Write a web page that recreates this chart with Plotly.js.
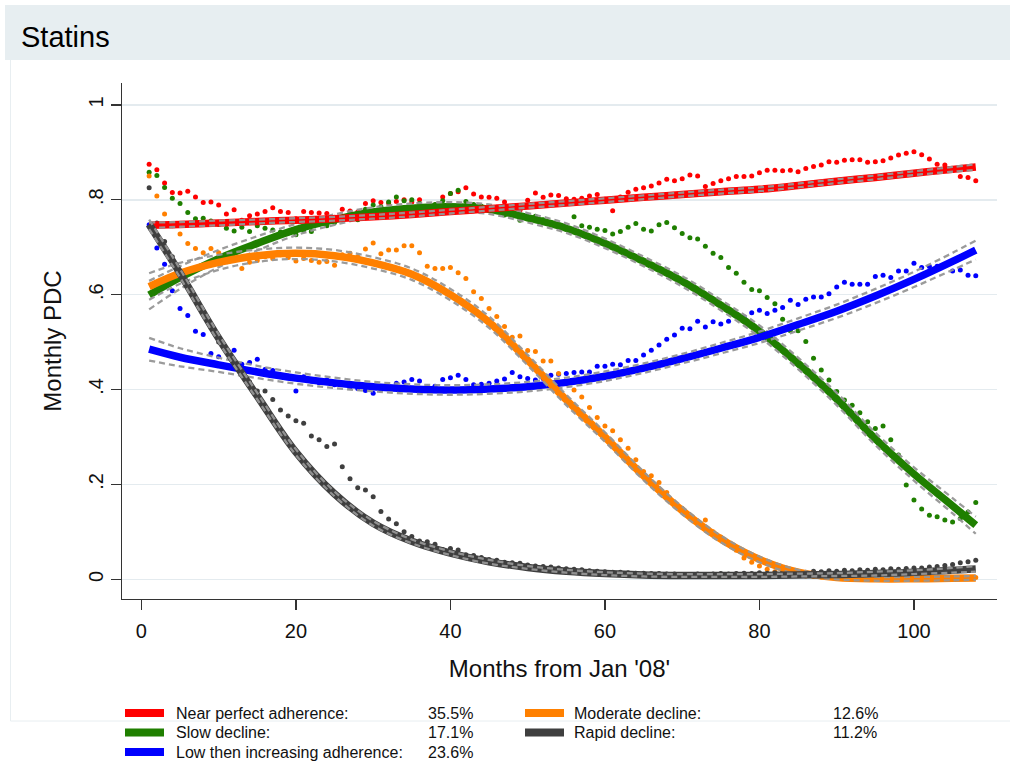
<!DOCTYPE html>
<html>
<head>
<meta charset="utf-8">
<script src="https://cdn.plot.ly/plotly-3.0.1.min.js"></script>
<style>
  html, body { margin: 0; padding: 0; background: #ffffff; }
  #chart { width: 1010px; height: 765px; }
</style>
</head>
<body>
<div id="chart"></div>
<script>
// ---- Monthly PDC trajectories, statin users (months from Jan '08) ----
const months = [
  1,2,3,4,5,6,7,8,9,10,11,12,13,14,15,16,17,18,19,20,21,22,23,24,25,26,27,28,29,30,
  31,32,33,34,35,36,37,38,39,40,41,42,43,44,45,46,47,48,49,50,51,52,53,54,55,56,57,58,59,60,
  61,62,63,64,65,66,67,68,69,70,71,72,73,74,75,76,77,78,79,80,81,82,83,84,85,86,87,88,89,90,
  91,92,93,94,95,96,97,98,99,100,101,102,103,104,105,106,107,108
];

// Observed monthly mean PDC per trajectory group
const nearPerfectObs = [
  .875,.863,.835,.815,.814,.818,.806,.794,.795,.789,.770,.779,.757,.766,.770,.775,.783,.775,.773,.760,
  .775,.773,.772,.771,.763,.780,.776,.774,.792,.798,.794,.793,.796,.800,.795,.800,.780,.789,.806,.813,
  .817,.825,.812,.806,.805,.803,.795,.782,.778,.799,.814,.805,.810,.809,.802,.801,.803,.808,.811,.801,
  .777,.806,.816,.822,.825,.829,.835,.843,.840,.844,.852,.850,.828,.834,.840,.844,.849,.849,.850,.857,
  .862,.862,.861,.862,.859,.866,.870,.873,.880,.879,.883,.884,.884,.879,.880,.882,.888,.894,.898,.901,
  .895,.886,.875,.873,.862,.849,.847,.840
];
const slowDeclineObs = [
  .858,.851,.826,.803,.792,.773,.760,.761,.755,.748,.740,.734,.742,.733,.745,.740,.736,.732,.730,.726,
  .735,.733,.754,.745,.752,.760,.770,.758,.780,.789,.785,.795,.806,.798,.800,.792,.785,.790,.798,.813,
  .820,.796,.790,.786,.778,.775,.768,.770,.757,.762,.765,.758,.752,.748,.738,.764,.745,.742,.738,.735,
  .728,.733,.742,.750,.738,.734,.747,.752,.741,.729,.720,.717,.702,.687,.678,.657,.645,.626,.611,.608,
  .594,.581,.548,.524,.524,.501,.466,.441,.420,.396,.378,.367,.351,.332,.318,.323,.294,.262,.199,.167,
  .148,.135,.132,.125,.121,.128,.142,.162
];
const lowIncreasingObs = [
  .747,.698,.664,.608,.571,.556,.523,.516,.476,.469,.485,.483,.453,.457,.464,.442,.440,.430,.428,.397,
  .427,.418,.414,.420,.410,.412,.405,.402,.398,.392,.400,.404,.413,.416,.421,.418,.406,.407,.421,.425,
  .430,.421,.410,.411,.413,.418,.422,.436,.427,.423,.420,.423,.430,.432,.434,.436,.437,.437,.449,.449,
  .453,.452,.461,.461,.473,.483,.494,.506,.515,.529,.528,.544,.532,.543,.538,.544,.559,.553,.562,.567,
  .560,.567,.573,.588,.579,.590,.595,.595,.602,.616,.626,.622,.622,.622,.638,.641,.636,.650,.650,.666,
  .657,.659,.660,.661,.650,.652,.641,.640
];
const moderateDeclineObs = [
  .850,.808,.770,.745,.728,.708,.697,.688,.697,.688,.680,.675,.655,.668,.672,.680,.676,.684,.678,.671,
  .676,.672,.668,.670,.662,.684,.687,.680,.696,.709,.686,.694,.694,.703,.703,.688,.660,.655,.655,.657,
  .646,.634,.606,.592,.571,.554,.533,.510,.513,.482,.480,.460,.460,.434,.412,.399,.384,.362,.341,.323,
  .313,.294,.276,.252,.227,.218,.204,.183,.158,.149,.130,.118,.125,.100,.089,.075,.061,.045,.036,.028,
  .021,.016,.012,.010,.008,.007,.006,.005,.005,.004,.005,.004,.004,.003,.004,.003,.004,.003,.003,.004,
  .003,.003,.004,.003,.003,.004,.003,.004
];
const rapidDeclineObs = [
  .825,.751,.712,.680,.650,.620,.590,.560,.530,.500,.480,.458,.440,.416,.397,.397,.379,.357,.344,.334,
  .329,.302,.294,.280,.285,.237,.212,.193,.188,.174,.143,.127,.117,.100,.090,.081,.079,.074,.063,.065,
  .062,.052,.050,.046,.042,.040,.036,.035,.034,.030,.028,.027,.026,.024,.022,.021,.020,.018,.017,.016,
  .015,.015,.014,.013,.013,.012,.012,.011,.011,.010,.010,.011,.010,.011,.012,.011,.012,.013,.012,.014,
  .013,.014,.015,.014,.016,.015,.017,.016,.018,.017,.019,.018,.020,.019,.021,.020,.022,.021,.023,.024,
  .024,.026,.027,.029,.031,.035,.037,.040
];

// Fitted trajectories with 95% confidence limits, sampled at these months
const fitMonths = [1,5,10,15,20,25,30,35,40,45,50,55,60,65,70,75,80,85,90,95,100,105,108];

const nearPerfectFit = [.746,.748,.751,.754,.757,.760,.764,.769,.775,.781,.787,.793,.799,.805,.811,.817,.822,.830,.839,.847,.856,.864,.869];
const nearPerfectHi  = [.752,.753,.756,.758,.761,.764,.768,.773,.779,.785,.791,.797,.803,.809,.815,.821,.826,.834,.843,.851,.860,.869,.875];
const nearPerfectLo  = [.740,.743,.746,.750,.753,.756,.760,.765,.771,.777,.783,.789,.795,.801,.807,.813,.818,.826,.835,.843,.852,.859,.863];

const slowDeclineFit = [.599,.636,.676,.708,.737,.758,.774,.782,.785,.780,.762,.740,.708,.670,.628,.578,.523,.455,.380,.296,.222,.155,.114];
const slowDeclineHi  = [.629,.660,.694,.723,.749,.769,.784,.792,.795,.790,.772,.750,.718,.680,.639,.589,.535,.467,.393,.309,.236,.171,.132];
const slowDeclineLo  = [.569,.612,.658,.693,.725,.747,.764,.772,.775,.770,.752,.730,.698,.660,.617,.567,.511,.443,.367,.283,.208,.139,.096];

const lowIncreasingFit = [.485,.468,.452,.437,.424,.414,.406,.401,.399,.401,.406,.415,.428,.445,.465,.487,.510,.537,.565,.597,.632,.670,.694];
const lowIncreasingHi  = [.509,.487,.467,.450,.436,.425,.416,.411,.409,.411,.416,.425,.438,.455,.475,.498,.522,.550,.579,.612,.648,.688,.714];
const lowIncreasingLo  = [.461,.449,.437,.424,.412,.403,.396,.391,.389,.391,.396,.405,.418,.435,.455,.476,.498,.524,.551,.582,.616,.652,.674];

const moderateDeclineFit = [.617,.645,.668,.682,.687,.682,.667,.643,.600,.542,.462,.378,.300,.218,.145,.085,.042,.015,.004,.001,.001,.002,.003];
const moderateDeclineHi  = [.645,.667,.684,.695,.699,.694,.679,.655,.612,.554,.473,.389,.310,.227,.153,.092,.048,.020,.008,.005,.005,.006,.007];
const moderateDeclineLo  = [.589,.623,.652,.669,.675,.670,.655,.631,.588,.530,.451,.367,.290,.209,.137,.078,.036,.010,.000,-.003,-.003,-.002,-.001];

const rapidDeclineFit = [.748,.645,.508,.386,.268,.180,.118,.080,.055,.037,.025,.017,.012,.009,.008,.008,.008,.009,.010,.012,.015,.019,.022];
const rapidDeclineHi  = [.758,.654,.516,.393,.274,.185,.123,.084,.059,.041,.028,.020,.015,.012,.011,.011,.011,.012,.013,.016,.019,.024,.028];
const rapidDeclineLo  = [.738,.636,.500,.379,.262,.175,.113,.076,.051,.033,.022,.014,.009,.006,.005,.005,.005,.006,.007,.008,.011,.014,.016];

// Group labels and share of patients in each group
const groupNames  = ['Near perfect adherence:', 'Slow decline:', 'Low then increasing adherence:', 'Moderate decline:', 'Rapid decline:'];
const groupShares = ['35.5%', '17.1%', '23.6%', '12.6%', '11.2%'];
const groupColors = ['#ff0000', '#1f7f00', '#0000ff', '#ff8000', '#3f3f3f'];

// Axis ticks
const xTickVals = [0, 20, 40, 60, 80, 100];
const xTickText = ['0', '20', '40', '60', '80', '100'];
const yTickVals = [0, 0.2, 0.4, 0.6, 0.8, 1];
const yTickText = ['0', '.2', '.4', '.6', '.8', '1'];

const chartTitle = 'Statins';
const xTitle = "Months from Jan '08'";
const yTitle = 'Monthly PDC';

// ---- geometry ----
const FIG_W = 1010, FIG_H = 765;
const M = { l: 122, r: 13, t: 83, b: 166 };
const PW = FIG_W - M.l - M.r, PH = FIG_H - M.t - M.b;
const px2x = px => (px - M.l) / PW;
const px2y = py => (FIG_H - M.b - py) / PH;

const FONT = '"Liberation Sans", Arial, Helvetica, sans-serif';

const obsSeries = [nearPerfectObs, slowDeclineObs, lowIncreasingObs, moderateDeclineObs, rapidDeclineObs];
const fits = [
  { fit: slowDeclineFit, hi: slowDeclineHi, lo: slowDeclineLo, c: 1 },
  { fit: lowIncreasingFit, hi: lowIncreasingHi, lo: lowIncreasingLo, c: 2 },
  { fit: moderateDeclineFit, hi: moderateDeclineHi, lo: moderateDeclineLo, c: 3 },
  { fit: nearPerfectFit, hi: nearPerfectHi, lo: nearPerfectLo, c: 0 },
  { fit: rapidDeclineFit, hi: rapidDeclineHi, lo: rapidDeclineLo, c: 4 }
];

const traces = [];
obsSeries.forEach((ys, i) => {
  traces.push({
    type: 'scatter', mode: 'markers', x: months, y: ys,
    marker: { color: groupColors[i], size: 5, line: { width: 0 } },
    showlegend: false, hoverinfo: 'skip'
  });
});
const ciLine = { color: 'rgba(150,150,150,0.95)', width: 2.3, dash: '6px,4px', shape: 'spline' };
fits.forEach(f => {
  traces.push({
    type: 'scatter', mode: 'lines', x: fitMonths, y: f.fit,
    line: { color: groupColors[f.c], width: 7.5, shape: 'spline', smoothing: 1 },
    showlegend: false, hoverinfo: 'skip'
  });
  traces.push({ type: 'scatter', mode: 'lines', x: fitMonths, y: f.hi, line: ciLine, showlegend: false, hoverinfo: 'skip' });
  traces.push({ type: 'scatter', mode: 'lines', x: fitMonths, y: f.lo, line: ciLine, showlegend: false, hoverinfo: 'skip' });
});

// ---- title band, frame and key ----
const shapes = [
  { type: 'rect', xref: 'paper', yref: 'paper', x0: px2x(5), x1: px2x(1012), y0: px2y(60), y1: px2y(5),
    fillcolor: '#e7eef1', line: { width: 0 }, layer: 'below' },
  { type: 'line', xref: 'paper', yref: 'paper', x0: px2x(10.5), x1: px2x(10.5), y0: px2y(60), y1: px2y(721),
    line: { color: '#e8eef1', width: 1 }, layer: 'below' },
  { type: 'line', xref: 'paper', yref: 'paper', x0: px2x(10.5), x1: px2x(1012), y0: px2y(721), y1: px2y(721),
    line: { color: '#e8eef1', width: 1 }, layer: 'below' }
];
const annotations = [];
const keySlots = [
  { sx: 125, tx: 174, px: 426, y: 713 },
  { sx: 125, tx: 174, px: 426, y: 732.5 },
  { sx: 125, tx: 174, px: 426, y: 752 },
  { sx: 525, tx: 572, px: 831, y: 713 },
  { sx: 525, tx: 572, px: 831, y: 732.5 }
];
groupNames.forEach((name, i) => {
  const s = keySlots[i];
  shapes.push({ type: 'rect', xref: 'paper', yref: 'paper',
    x0: px2x(s.sx), x1: px2x(s.sx + 39), y0: px2y(s.y + 4), y1: px2y(s.y - 4),
    fillcolor: groupColors[i], line: { width: 0 } });
  annotations.push({ xref: 'paper', yref: 'paper', x: px2x(s.tx), y: px2y(s.y), text: name,
    showarrow: false, xanchor: 'left', yanchor: 'middle', font: { family: FONT, size: 16, color: '#111' } });
  annotations.push({ xref: 'paper', yref: 'paper', x: px2x(s.px), y: px2y(s.y), text: groupShares[i],
    showarrow: false, xanchor: 'left', yanchor: 'middle', font: { family: FONT, size: 16, color: '#111' } });
});

const layout = {
  width: FIG_W, height: FIG_H,
  margin: M,
  paper_bgcolor: '#ffffff', plot_bgcolor: '#ffffff',
  font: { family: FONT, color: '#111' },
  showlegend: false,
  title: { text: chartTitle, x: 21 / FIG_W, xanchor: 'left', xref: 'container',
           y: 1 - 37 / FIG_H, yanchor: 'middle', yref: 'container',
           font: { family: FONT, size: 29, color: '#000' } },
  xaxis: {
    range: [-2.513, 110.75], showgrid: false, zeroline: false,
    tickvals: xTickVals, ticktext: xTickText, ticks: 'outside', ticklen: 10, tickwidth: 1.4, tickcolor: '#333',
    ticklabelstandoff: 4,
    showline: true, linecolor: '#333', linewidth: 1.4,
    tickfont: { family: FONT, size: 20, color: '#111' },
    title: { text: xTitle, font: { family: FONT, size: 24, color: '#111' }, standoff: 18 }
  },
  yaxis: {
    range: [-0.0415, 1.046], showgrid: true, gridcolor: '#e4ebef', gridwidth: 1.6, zeroline: false,
    tickvals: yTickVals, ticktext: yTickText, ticks: 'outside', ticklen: 10, tickwidth: 1.4, tickcolor: '#333',
    tickangle: -90,
    showline: true, linecolor: '#333', linewidth: 1.4,
    tickfont: { family: FONT, size: 20, color: '#111' },
    title: { text: yTitle, font: { family: FONT, size: 24, color: '#111' }, standoff: 16 }
  },
  shapes: shapes,
  annotations: annotations
};

Plotly.newPlot('chart', traces, layout, { staticPlot: true, displayModeBar: false });
</script>
</body>
</html>
